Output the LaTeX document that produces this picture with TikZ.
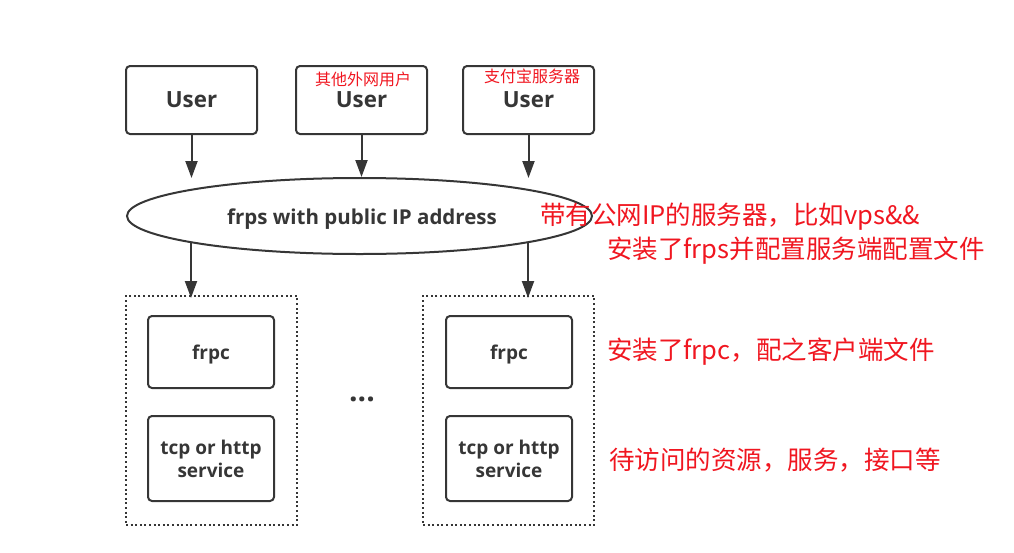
\documentclass[tikz,border=0pt]{standalone}
\usepackage{fontspec}
\setmainfont{Open Sans}
\newfontfamily\cjk{Noto Sans CJK SC}
\usetikzlibrary{shapes.geometric,arrows.meta}
\definecolor{ink}{HTML}{363636}
\definecolor{note}{RGB}{240,22,32}
\tikzset{
  box/.style={draw=ink, line width=2pt, rounded corners=4pt, inner sep=0pt, align=center,
    text=ink, font=\bfseries\fontsize{19}{23}\selectfont},
  userbox/.style={box, minimum width=131pt, minimum height=68pt, font=\bfseries\fontsize{22.3}{26}\selectfont},
  frpcbox/.style={box, minimum width=126pt, minimum height=72pt, text depth=0pt},
  svcbox/.style={box, minimum width=126pt, minimum height=85pt},
  group/.style={draw=ink, line width=2pt, dash pattern=on 2pt off 2.6pt, minimum width=171pt, minimum height=229pt, inner sep=0pt},
  arr/.style={draw=ink, line width=2pt, -{Triangle[width=12pt,length=17pt]}},
  note/.style={text=note, anchor=west, inner sep=0pt, font=\cjk\fontsize{25.5}{30}\selectfont},
  small/.style={text=note, inner sep=0pt, font=\cjk\fontsize{16}{19}\selectfont}
}
\begin{document}
\begin{tikzpicture}[x=1pt,y=-1pt]
\useasboundingbox (0,0) rectangle (1014,552);
% users
\node[userbox] (u1) at (191.5,100) {User};
\node[userbox] (u2) at (361.5,100) {User};
\node[userbox] (u3) at (528.5,100) {User};
\node[small] (l2) at (363,79) {其他外网用户};
\node[small] (l3) at (532,76) {支付宝服务器};
% frps
\node[ellipse, draw=ink, line width=2pt, minimum width=465pt, minimum height=76pt, inner sep=0pt] (ell) at (359.5,216) {};
\node[text=ink, inner sep=0pt, font=\bfseries\fontsize{20.5}{24}\selectfont] (etext) at (362,219) {frps with public IP address};
% groups
\node[group] (g1) at (211.5,410.5) {};
\node[group] (g2) at (508.5,410.5) {};
\node[frpcbox] (c1) at (211,352) {frpc};
\node[svcbox] (s1) at (211,458.5) {tcp or http\\service};
\node[frpcbox] (c2) at (509,352) {frpc};
\node[svcbox] (s2) at (509,458.5) {tcp or http\\service};
\node[text=ink, inner sep=0pt, font=\bfseries\fontsize{30}{30}\selectfont] (dots) at (362,399) {...};
% arrows
\coordinate (t1) at ([yshift=-1pt]u1.south |- ell.north);
\coordinate (t2) at (u2.south |- ell.north);
\coordinate (t3) at ([yshift=-1pt]u3.south |- ell.north);
\draw[arr] (u1.south) -- (t1);
\draw[arr] (u2.south) -- (t2);
\draw[arr] (u3.south) -- (t3);
\coordinate (b1) at (191,243);
\coordinate (b2) at (528,243);
\draw[arr] (b1) -- ([yshift=-3pt]b1 |- g1.north);
\draw[arr] (b2) -- ([yshift=-3pt]b2 |- g2.north);
% notes
\node[note] (n1) at (540,217) {带有公网IP的服务器，比如vps\&\&};
\node[note] (n2) at (607,251) {安装了frps并配置服务端配置文件};
\node[note] (n3) at (607,352) {安装了frpc，配之客户端文件};
\node[note] (n4) at (609,460) {待访问的资源，服务，接口等};
\end{tikzpicture}
\end{document}
